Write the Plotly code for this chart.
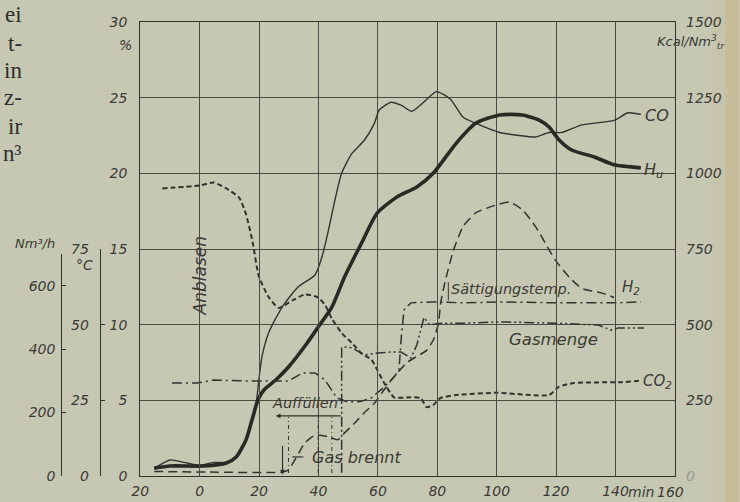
import plotly.graph_objects as go

# ---- data -------------------------------------------------------------
# time axis in minutes
x_ticks = [-20, 0, 20, 40, 60, 80, 100, 120, 140]
x_labels = ["20", "0", "20", "40", "60", "80", "100", "120", "140"]
pct_ticks = [0, 5, 10, 15, 20, 25, 30]
kcal_ticks = [0, 250, 500, 750, 1000, 1250, 1500]
degc_ticks = [0, 25, 50, 75]
flow_ticks = [0, 200, 400, 600]

# CO content, %
co_t = [-15.3, -10, -5.3, 0, 4.7, 9, 13.3, 16.6, 18.9, 19.9, 21, 23.3, 27.9, 33.2,
        38.9, 41.2, 43.2, 45.5, 47.8, 51.2, 55.5, 58.8, 60.5, 64.5, 67.8, 71.4,
        75.4, 79.7, 84.4, 88.7, 93, 101, 107.6, 113, 117.6, 122, 128.6, 139.5,
        144.2, 148.5]
co_v = [0.5, 1.06, 0.9, 0.7, 0.9, 0.9, 1.4, 3.0, 4.6, 6.3, 7.9, 9.5, 11.2, 12.5,
        13.3, 14.5, 16.1, 18.2, 20.0, 21.3, 22.2, 23.3, 24.2, 24.7, 24.5, 24.1,
        24.7, 25.4, 24.9, 23.7, 23.3, 22.7, 22.5, 22.4, 22.7, 22.7, 23.2, 23.5,
        24.0, 23.9]

# heating value Hu, kcal/Nm3
hu_t = [-15.3, -10, 1.3, 9, 12.3, 15.6, 17.9, 19.6, 21.6, 25.6, 29.9, 36, 39.9,
        44.5, 48.8, 54.5, 59.8, 66.4, 73.1, 78.7, 86.4, 93, 101, 108.6, 114.3,
        117.6, 121, 125.2, 132.9, 139.5, 148.5]
hu_v = [26, 33, 33, 43, 63, 119, 195, 251, 284, 317, 360, 437, 492, 558, 658, 770,
        869, 922, 955, 1001, 1100, 1166, 1193, 1193, 1176, 1153, 1110, 1077, 1054,
        1028, 1018]

# CO2 content, %
co2_t = [-12.6, 0, 4.7, 9, 13.3, 15.6, 17.9, 19.9, 23.3, 26.6, 31.2, 35.5, 39.9,
         42.2, 44.5, 47.8, 51.2, 54.5, 57.8, 59.8, 62.1, 65.4, 71, 74.4, 76.4,
         78.7, 81, 86.4, 99.7, 117.6, 121, 126, 142, 148.5]
co2_v = [19.0, 19.2, 19.4, 19.0, 18.4, 17.3, 15.4, 13.2, 11.8, 11.1, 11.6, 12.0,
         11.8, 11.3, 10.4, 9.45, 8.8, 8.1, 7.7, 7.0, 6.15, 5.2, 5.2, 5.15, 4.55,
         4.7, 5.15, 5.35, 5.5, 5.35, 5.9, 6.15, 6.2, 6.3]

# H2 content, %
h2_t = [-15.3, 2.3, 27.9, 29.9, 35.5, 38.9, 43.2, 46.5, 48.8, 52.2, 55.5, 58.8,
        62.1, 65.4, 69.8, 73.1, 76.4, 78.7, 80.4, 81.1, 82, 83, 85.4, 88.7, 93,
        99.7, 104.3, 108.6, 113, 116.3, 119.6, 124.3, 128.6, 135.2, 139.5]
h2_v = [0.3, 0.26, 0.26, 0.4, 2.2, 2.7, 2.6, 2.4, 2.85, 3.5, 4.2, 4.8, 5.7, 6.55,
        7.5, 7.9, 8.3, 9.0, 10.1, 11.4, 12.3, 13.15, 14.9, 16.5, 17.4, 17.9, 18.1,
        17.6, 16.5, 15.4, 14.3, 13.15, 12.4, 12.1, 11.8]

# saturation temperature, deg C
sat_t = [-9.3, -1, 4.7, 15.6, 29.9, 34.6, 38.9, 42.2, 46.2, 49.8, 53.8, 57.8, 62.1,
         65.4, 67.1, 67.8, 68.8, 71.1, 77.7, 89.7, 101, 121, 139.5, 148.5]
sat_v = [30.7, 30.7, 31.7, 31.4, 31.4, 34, 34, 31.7, 25.8, 24.5, 24.5, 25.8, 29.4,
         32.7, 35, 45, 54.9, 57.2, 57.5, 57.2, 57.5, 57.2, 57.2, 57.5]

# gas quantity, Nm3/h
gas_t = [47.8, 47.8, 48.8, 51.2, 55.5, 59.8, 64.5, 67.8, 71.1, 73.1, 75.5, 77.5,
         81.1, 89.7, 101, 119.6, 134.2, 138.5, 140.9, 149.5]
gas_v = [10, 404, 407, 404, 382, 388, 391, 391, 372, 413, 500, 476, 482, 482, 486,
         482, 476, 460, 467, 467]

# ---- styling ----------------------------------------------------------
INK = "#33332e"
GRID = "#4a4b43"
TXT = "#3a3a34"
PAPER = "#c7c8b4"
FONT = "DejaVu Sans"

W, H = 740, 502
ML, MR, MT, MB = 0, 65, 22, 26
PW, PH = W - ML - MR, H - MT - MB


def P(px, py):
    """pixel position -> paper coordinates"""
    return dict(x=(px - ML) / PW, y=(H - MB - py) / PH, xref="paper", yref="paper")


fig = go.Figure()

fig.add_trace(go.Scatter(x=co_t, y=co_v, mode="lines", yaxis="y",
                         line=dict(color=INK, width=1.4, shape="spline", smoothing=0.6)))
fig.add_trace(go.Scatter(x=hu_t, y=hu_v, mode="lines", yaxis="y2",
                         line=dict(color="#2a2a25", width=3.6, shape="spline", smoothing=0.6)))
fig.add_trace(go.Scatter(x=co2_t, y=co2_v, mode="lines", yaxis="y",
                         line=dict(color=INK, width=2, dash="5px,3px", shape="spline", smoothing=0.5)))
fig.add_trace(go.Scatter(x=h2_t, y=h2_v, mode="lines", yaxis="y",
                         line=dict(color=INK, width=1.5, dash="9px,5px", shape="spline", smoothing=0.5)))
fig.add_trace(go.Scatter(x=sat_t, y=sat_v, mode="lines", yaxis="y3",
                         line=dict(color=INK, width=1.5, dash="10px,4px,2px,4px")))
fig.add_trace(go.Scatter(x=gas_t, y=gas_v, mode="lines", yaxis="y4",
                         line=dict(color=INK, width=1.5, dash="10px,3px,2px,3px,2px,3px")))

axis_font = dict(family=FONT, size=14, color=TXT, style="italic")

fig.update_layout(
    width=W, height=H,
    margin=dict(l=ML, r=MR, t=MT, b=MB),
    paper_bgcolor=PAPER, plot_bgcolor="rgba(0,0,0,0)",
    showlegend=False,
    font=dict(family=FONT, size=14, color=TXT, style="italic"),
    xaxis=dict(domain=[(133 - ML) / PW, 1], range=[-20, 160],
               tickvals=x_ticks, ticktext=x_labels, tickfont=axis_font,
               showgrid=True, gridcolor=GRID, gridwidth=1.1,
               showline=True, linecolor=INK, linewidth=1.2, mirror=True,
               zeroline=False, ticks="", ticklabelstandoff=2),
    yaxis=dict(range=[0, 30], tickvals=pct_ticks, tickfont=axis_font,
               showgrid=True, gridcolor=GRID, gridwidth=1.1,
               showline=True, linecolor=INK, linewidth=1.2, mirror=True,
               zeroline=False, ticks="", ticklabelstandoff=9),
    yaxis2=dict(overlaying="y", side="right", anchor="x", range=[0, 1500],
                tickvals=kcal_ticks,
                ticktext=["<span style='color:#9a9a8c'>0</span>"] + [str(v) for v in kcal_ticks[1:]],
                tickfont=axis_font, showgrid=False, showline=False, zeroline=False,
                ticks="", ticklabelstandoff=10),
    yaxis3=dict(anchor="free", position=(92 - ML) / PW, side="left",
                domain=[0, 0.5], range=[0, 75], tickvals=degc_ticks,
                tickfont=axis_font, showgrid=False, zeroline=False,
                showline=True, linecolor=INK, linewidth=1.2,
                ticks="inside", ticklen=4, tickcolor=INK, ticklabelstandoff=8),
    yaxis4=dict(anchor="free", position=(53 - ML) / PW, side="left",
                domain=[0, (476 - 254) / PH], range=[0, 700], tickvals=flow_ticks,
                tickfont=axis_font, showgrid=False, zeroline=False,
                showline=True, linecolor=INK, linewidth=1.2,
                ticks="inside", ticklen=4, tickcolor=INK, ticklabelstandoff=3),
)

ann = []


def label(text, px, py, size=15, angle=0, xanchor="center", family=FONT, style="italic", color=TXT):
    a = P(px, py)
    a.update(text=text, showarrow=False, textangle=angle, xanchor=xanchor, yanchor="middle",
             font=dict(family=family, size=size, color=color, style=style))
    ann.append(a)


label("CO", 657, 115, 16)
label("H<sub>u</sub>", 653, 170, 16)
label("H<sub>2</sub>", 630, 287, 15)
label("CO<sub>2</sub>", 657, 381, 15)
label("Sättigungstemp.", 509, 289, 14.5)
label("Gasmenge", 552, 339, 16.5)
label("Anblasen", 194, 276, 17, angle=-90)
label("Auffüllen", 300, 403, 14.5)
label("Gas brennt", 352, 457, 16)
label("%", 118, 45, 14)
label("Kcal/Nm<sup>3</sup><sub>tr</sub>", 691, 42, 13)
label("Nm³/h", 26, 243, 13)
label("°C", 77, 265, 14)
label("min", 641, 492, 14)
label("160", 670, 492, 14)

# fragment of the adjoining page text
for word, yy in [("ei", 14), ("t-", 43), ("in", 70), ("z-", 98), ("ir", 126), ("n³", 153)]:
    label(word, 15, yy, 23, xanchor="right", family="Liberation Serif", style="normal",
          color="#2e2e2a")

# event arrows
ann.append(dict(x=25.6, y=3.97, ax=48, ay=3.97, xref="x", yref="y", axref="x", ayref="y",
                text="", showarrow=True, arrowhead=2, arrowsize=0.8, arrowwidth=1.2,
                arrowcolor=INK))
ann.append(dict(x=27.9, y=0.1, ax=27.9, ay=2.1, xref="x", yref="y", axref="x", ayref="y",
                text="", showarrow=True, arrowhead=2, arrowsize=0.8, arrowwidth=1.2,
                arrowcolor=INK))

shapes = []
for xv in [29.9, 39.9, 44.5]:
    shapes.append(dict(type="line", xref="x", yref="y", x0=xv, x1=xv, y0=0.2, y1=3.9,
                       line=dict(color=INK, width=1, dash="4px,3px,1px,3px")))
shapes.append(dict(type="line", xref="x", yref="y", x0=31.2, x1=34.9, y0=1.26, y1=1.26,
                   line=dict(color=INK, width=1.2)))
shapes.append(dict(type="line", xref="x", yref="y", x0=83.7, x1=83.7, y0=11.6, y1=12.8,
                   line=dict(color=INK, width=1)))
# warm tint along the right page edge
shapes.append(dict(type="rect", xref="paper", yref="paper", layer="below",
                   x0=(712 - ML) / PW, x1=(726 - ML) / PW, y0=-MB / PH, y1=(H - MB) / PH,
                   fillcolor="rgba(200,175,120,0.15)", line=dict(width=0)))
shapes.append(dict(type="rect", xref="paper", yref="paper", layer="below",
                   x0=(726 - ML) / PW, x1=(W - ML) / PW, y0=-MB / PH, y1=(H - MB) / PH,
                   fillcolor="rgba(200,170,110,0.35)", line=dict(width=0)))

fig.update_layout(annotations=ann, shapes=shapes)

fig.write_html("out.html")
